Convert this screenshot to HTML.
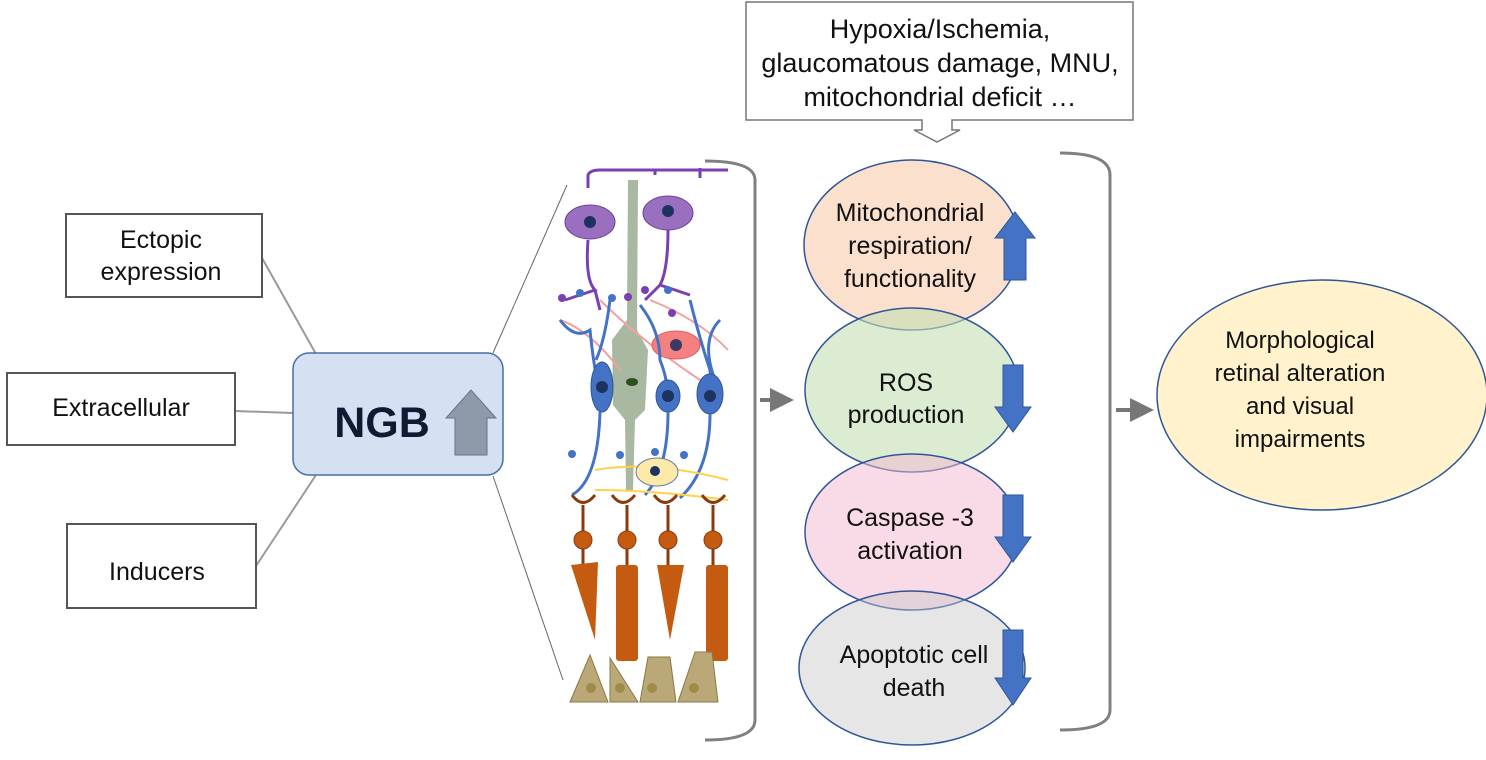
<!DOCTYPE html>
<html><head><style>body{margin:0;background:#fff}svg{display:block}text{font-family:"Liberation Sans",sans-serif;fill:#111}</style></head><body>
<svg width="1486" height="760" viewBox="0 0 1486 760" xmlns="http://www.w3.org/2000/svg">
<defs><marker id="ah" markerWidth="6" markerHeight="6" refX="3" refY="3" orient="auto"><path d="M0,0L6,3L0,6z" fill="#777"/></marker></defs>
<g stroke="#9a9a9a" stroke-width="2" fill="none">
<line x1="262" y1="258" x2="316" y2="354"/>
<line x1="235" y1="411" x2="293" y2="413"/>
<line x1="256" y1="566" x2="316" y2="475"/>
</g>
<g stroke="#555" stroke-width="2" fill="#fff">
<rect x="66" y="214" width="196" height="83"/>
<rect x="7" y="373" width="228" height="72"/>
<rect x="67" y="524" width="189" height="84"/>
</g>
<g font-size="25" text-anchor="middle">
<text x="161" y="248">Ectopic</text><text x="161" y="280">expression</text>
<text x="121" y="416">Extracellular</text>
<text x="157" y="580">Inducers</text>
</g>
<rect x="293" y="353" width="210" height="122" rx="16" fill="#d5e0f2" stroke="#4a6fa5" stroke-width="1.5"/>
<text x="382" y="437" font-size="43" font-weight="bold" text-anchor="middle" style="fill:#111a33">NGB</text>
<path d="M455,455V418H446L471,390L496,418H487V455Z" fill="#8e9aaa" stroke="#6a7585"/>
<line x1="493" y1="353" x2="567" y2="185" stroke="#666" stroke-width="1"/>
<line x1="493" y1="476" x2="563" y2="680" stroke="#666" stroke-width="1"/>
<g>
<path d="M588,188V175Q590,170 600,170H728M655,175V170M700,178V168" stroke="#7a3fb0" stroke-width="3" fill="none"/>
<path d="M628,180L638,180L637,330L648,350L645,410L635,420L633,490L626,490L625,420L613,405L612,340L627,320Z" fill="#a9b8a0"/>
<ellipse cx="632" cy="382" rx="6" ry="4" fill="#2e5020"/>
<ellipse cx="590" cy="222" rx="25" ry="17" fill="#9a6fc0" stroke="#6a3f9a"/>
<ellipse cx="668" cy="213" rx="25" ry="17" fill="#9a6fc0" stroke="#6a3f9a"/>
<circle cx="590" cy="222" r="6" fill="#1e3260"/><circle cx="668" cy="211" r="6" fill="#1e3260"/>
<path d="M588,240Q585,280 595,290L565,300M595,290L600,310M668,230Q668,270 660,285L645,300M660,285L690,295" stroke="#7a3fb0" stroke-width="3" fill="none"/>
<path d="M560,320Q590,330 620,370M650,300Q700,320 728,350M600,300Q640,340 700,380" stroke="#f4a0a0" stroke-width="2" fill="none"/>
<ellipse cx="676" cy="345" rx="24" ry="14" fill="#f48080" stroke="#e06060"/><circle cx="676" cy="345" r="6" fill="#3a3a60"/>
<path d="M560,320Q575,340 590,330Q595,380 602,395M610,300Q605,340 596,360M640,305Q660,330 660,360Q668,380 668,400M690,300Q700,340 710,370Q712,390 710,400M720,320Q700,340 715,380" stroke="#4472c4" stroke-width="3" fill="none"/>
<ellipse cx="602" cy="387" rx="11" ry="25" fill="#4472c4" stroke="#2f5597"/><circle cx="602" cy="387" r="6" fill="#1e3260"/>
<ellipse cx="668" cy="396" rx="12" ry="16" fill="#4472c4" stroke="#2f5597"/><circle cx="668" cy="396" r="6" fill="#1e3260"/>
<ellipse cx="710" cy="394" rx="13" ry="20" fill="#4472c4" stroke="#2f5597"/><circle cx="710" cy="396" r="6" fill="#1e3260"/>
<path d="M600,412Q598,480 572,495M668,412Q668,470 645,495M710,414Q710,470 680,498" stroke="#4472c4" stroke-width="3" fill="none"/>
<path d="M595,470Q650,460 728,480M595,490Q650,490 728,500" stroke="#ffd24a" stroke-width="2" fill="none"/>
<ellipse cx="657" cy="472" rx="21" ry="14" fill="#fde9a8" stroke="#6a7aa0"/><circle cx="655" cy="471" r="5" fill="#1e3260"/>
<g fill="#4472c4"><circle cx="572" cy="454" r="4"/><circle cx="620" cy="455" r="4"/><circle cx="655" cy="452" r="4"/><circle cx="684" cy="455" r="4"/><circle cx="580" cy="293" r="4"/><circle cx="612" cy="298" r="4"/><circle cx="668" cy="290" r="4"/></g>
<g fill="#7a3fb0"><circle cx="562" cy="298" r="4"/><circle cx="628" cy="297" r="4"/><circle cx="645" cy="290" r="4"/><circle cx="672" cy="313" r="4"/></g>
<g stroke="#8b3a10" stroke-width="3" fill="none"><path d="M572,495Q583,510 595,495M612,495Q623,510 635,495M654,495Q665,510 677,495M702,495Q713,510 725,495"/></g>
<g stroke="#8b3a10" stroke-width="3"><line x1="583" y1="505" x2="583" y2="570"/><line x1="627" y1="505" x2="627" y2="570"/><line x1="668" y1="505" x2="668" y2="570"/><line x1="713" y1="505" x2="713" y2="570"/></g>
<g fill="#c55a11" stroke="#8b3a10"><circle cx="583" cy="540" r="9"/><circle cx="627" cy="540" r="9"/><circle cx="668" cy="540" r="9"/><circle cx="713" cy="540" r="9"/></g>
<g fill="#c55a11"><path d="M571,565L598,562L595,640Z"/><path d="M657,565L684,565L670,640Z"/><rect x="616" y="565" width="22" height="96" rx="3"/><rect x="706" y="565" width="22" height="96" rx="3"/></g>
<g fill="#bba878" stroke="#8a7a40"><path d="M570,702L590,655L608,702Z"/><path d="M610,702L610,658L638,702Z"/><path d="M640,702L648,657L670,657L676,702Z"/><path d="M678,702L695,652L712,652L718,702Z"/></g>
<g fill="#a08a48"><circle cx="591" cy="688" r="5"/><circle cx="620" cy="688" r="5"/><circle cx="652" cy="688" r="5"/><circle cx="694" cy="688" r="5"/></g>
</g>
<path d="M705,161Q755,161 755,180V720Q755,740 705,740" stroke="#808080" stroke-width="3" fill="none"/>
<line x1="760" y1="400" x2="782" y2="400" stroke="#777" stroke-width="4" marker-end="url(#ah)"/>
<path d="M746,2H1133V120H952V130H960L937,142L914,130H922V120H746Z" fill="#fff" stroke="#777" stroke-width="1.5"/>
<g font-size="27" text-anchor="middle"><text x="940" y="38">Hypoxia/Ischemia,</text><text x="940" y="72">glaucomatous damage, MNU,</text><text x="940" y="106">mitochondrial deficit …</text></g>
<g stroke="#2f5597" stroke-width="1.5">
<ellipse cx="912" cy="245" rx="108" ry="85" fill="#f8cbad" fill-opacity="0.6"/>
<ellipse cx="912" cy="390" rx="107" ry="82" fill="#c5e0b4" fill-opacity="0.6"/>
<ellipse cx="912" cy="532" rx="107" ry="78" fill="#f4b8cf" fill-opacity="0.5"/>
<ellipse cx="912" cy="668" rx="113" ry="77" fill="#c8c8c8" fill-opacity="0.45"/>
</g>
<g font-size="25" text-anchor="middle">
<text x="910" y="221">Mitochondrial</text><text x="910" y="254">respiration/</text><text x="910" y="287">functionality</text>
<text x="906" y="391">ROS</text><text x="906" y="423">production</text>
<text x="910" y="526">Caspase -3</text><text x="910" y="559">activation</text>
<text x="914" y="663">Apoptotic cell</text><text x="914" y="696">death</text>
</g>
<g fill="#4472c4" stroke="#2f5597">
<path d="M1004,280V238H995L1015,212L1035,238H1026V280Z"/>
<path d="M1003,365H1023V407H1031L1013,432L995,407H1003Z"/>
<path d="M1003,495H1023V537H1031L1013,562L995,537H1003Z"/>
<path d="M1003,630H1023V678H1031L1013,705L995,678H1003Z"/>
<path d="M1412,345H1438V400H1452L1425,430L1398,400H1412Z"/>
</g>
<path d="M1060,153Q1110,153 1110,175V710Q1110,730 1060,730" stroke="#808080" stroke-width="3" fill="none"/>
<line x1="1116" y1="410" x2="1142" y2="410" stroke="#777" stroke-width="4" marker-end="url(#ah)"/>
<ellipse cx="1322" cy="395" rx="165" ry="115" fill="#fff2cc" stroke="#2f5597" stroke-width="1.5"/>
<g font-size="24" text-anchor="middle"><text x="1300" y="348">Morphological</text><text x="1300" y="381">retinal alteration</text><text x="1300" y="414">and visual</text><text x="1300" y="447">impairments</text></g>
</svg>
</body></html>
